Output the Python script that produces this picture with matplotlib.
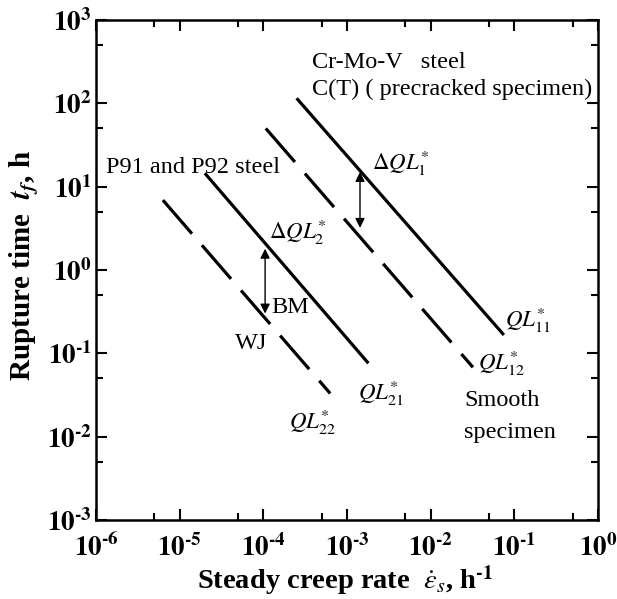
import math
import matplotlib
matplotlib.use("Agg")
import matplotlib.pyplot as plt
from matplotlib.ticker import FixedLocator, FuncFormatter, NullFormatter

plt.rcParams['font.family'] = ['Liberation Serif', 'DejaVu Serif']
plt.rcParams['mathtext.fontset'] = 'stix'
plt.rcParams['lines.scale_dashes'] = False

# ---- data ----
ql11_rate = [2.5e-4, 7.5e-2]
ql11_time = [115.0, 0.166]
ql12_rate = [1.07e-4, 3.2e-2]
ql12_time = [50.0, 0.068]
ql21_rate = [2.0e-5, 1.8e-3]
ql21_time = [14.5, 0.076]
ql22_rate = [6.3e-6, 6.3e-4]
ql22_time = [6.9, 0.033]

dql1_rate = 1.43e-3
dql1_time = [15.0, 3.2]
dql2_rate = 1.05e-4
dql2_time = [1.8, 0.30]

x_major = [1e-6, 1e-5, 1e-4, 1e-3, 1e-2, 1e-1, 1e0]
x_minor = [5e-6, 5e-5, 5e-4, 5e-3, 5e-2, 5e-1]
y_major = [1e-3, 1e-2, 1e-1, 1e0, 1e1, 1e2, 1e3]
y_minor = [5e-3, 5e-2, 5e-1, 5e0, 5e1, 5e2]

HY = '\u2010'

fig = plt.figure(figsize=(6.17, 5.99), dpi=100)
ax = fig.add_axes([96/617, 1-520/599, (598-96)/617, 500/599])
ax.set_xscale('log')
ax.set_yscale('log')
ax.set_xlim(1e-6, 1e0)
ax.set_ylim(1e-3, 1e3)

lw = 2.3
dash = (0, (32, 11))
ax.plot(ql11_rate, ql11_time, color='black', lw=lw, solid_capstyle='butt')
ax.plot(ql12_rate, ql12_time, color='black', lw=lw, linestyle=dash, dash_capstyle='butt')
ax.plot(ql21_rate, ql21_time, color='black', lw=lw, solid_capstyle='butt')
ax.plot(ql22_rate, ql22_time, color='black', lw=lw, linestyle=dash, dash_capstyle='butt')

for xr, (yt, yb) in [(dql1_rate, dql1_time), (dql2_rate, dql2_time)]:
    ax.annotate('', xy=(xr, yt), xytext=(xr, yb),
                arrowprops=dict(arrowstyle='<|-|>', color='black', lw=1.0,
                                mutation_scale=14, shrinkA=0, shrinkB=0))

fs = 17.5
mfs = 16.5
ax.text(3.8e-4, 3.1e2, 'Cr-Mo-V   steel', fontsize=fs, va='center', ha='left')
ax.text(3.8e-4, 1.45e2, 'C(T) ( precracked specimen)', fontsize=fs, va='center', ha='left')
ax.text(1.3e-6, 17, 'P91 and P92 steel', fontsize=fs, va='center', ha='left')
ax.text(2.0e-3, 19, r'$\Delta QL_1^{*}$', fontsize=mfs, va='center', ha='left')
ax.text(1.17e-4, 2.8, r'$\Delta QL_2^{*}$', fontsize=mfs, va='center', ha='left')
ax.text(1.25e-4, 0.35, 'BM', fontsize=fs, va='center', ha='left')
ax.text(4.6e-5, 0.133, 'WJ', fontsize=fs, va='center', ha='left')
ax.text(7.8e-2, 0.25, r'$QL_{11}^{*}$', fontsize=mfs, va='center', ha='left')
ax.text(3.7e-2, 0.076, r'$QL_{12}^{*}$', fontsize=mfs, va='center', ha='left')
ax.text(1.35e-3, 0.033, r'$QL_{21}^{*}$', fontsize=mfs, va='center', ha='left')
ax.text(2.0e-4, 0.0149, r'$QL_{22}^{*}$', fontsize=mfs, va='center', ha='left')
ax.text(2.5e-2, 0.0275, 'Smooth', fontsize=fs, va='center', ha='left')
ax.text(2.5e-2, 0.0113, 'specimen', fontsize=fs, va='center', ha='left')

def fmt(v, pos):
    e = int(round(math.log10(v)))
    s = (HY + str(-e)) if e < 0 else str(e)
    return r'$\mathbf{10^{%s}}$' % s

ax.xaxis.set_major_locator(FixedLocator(x_major))
ax.xaxis.set_minor_locator(FixedLocator(x_minor))
ax.yaxis.set_major_locator(FixedLocator(y_major))
ax.yaxis.set_minor_locator(FixedLocator(y_minor))
ax.xaxis.set_major_formatter(FuncFormatter(fmt))
ax.yaxis.set_major_formatter(FuncFormatter(fmt))
ax.xaxis.set_minor_formatter(NullFormatter())
ax.yaxis.set_minor_formatter(NullFormatter())
ax.tick_params(which='both', direction='in', top=True, right=True, width=1.5)
ax.tick_params(which='major', length=8, labelsize=19.5)
ax.tick_params(axis='y', which='major', pad=3)
ax.tick_params(axis='x', which='major', pad=10)
ax.tick_params(which='minor', length=5)
for s in ax.spines.values():
    s.set_linewidth(1.8)

ax.set_xlabel(r'Steady creep rate  $\dot{\varepsilon}_s$, h$^{\mathbf{%s1}}$' % HY,
              fontsize=20.5, fontweight='bold', va='center')
ax.xaxis.set_label_coords(0.497, -0.122)
ax.set_ylabel(r'Rupture time  $\mathbfit{t_f}$, h', fontsize=21, fontweight='bold', va='center')
ax.yaxis.set_label_coords(-0.145, 0.51)

fig.savefig('out.png', dpi=100)
